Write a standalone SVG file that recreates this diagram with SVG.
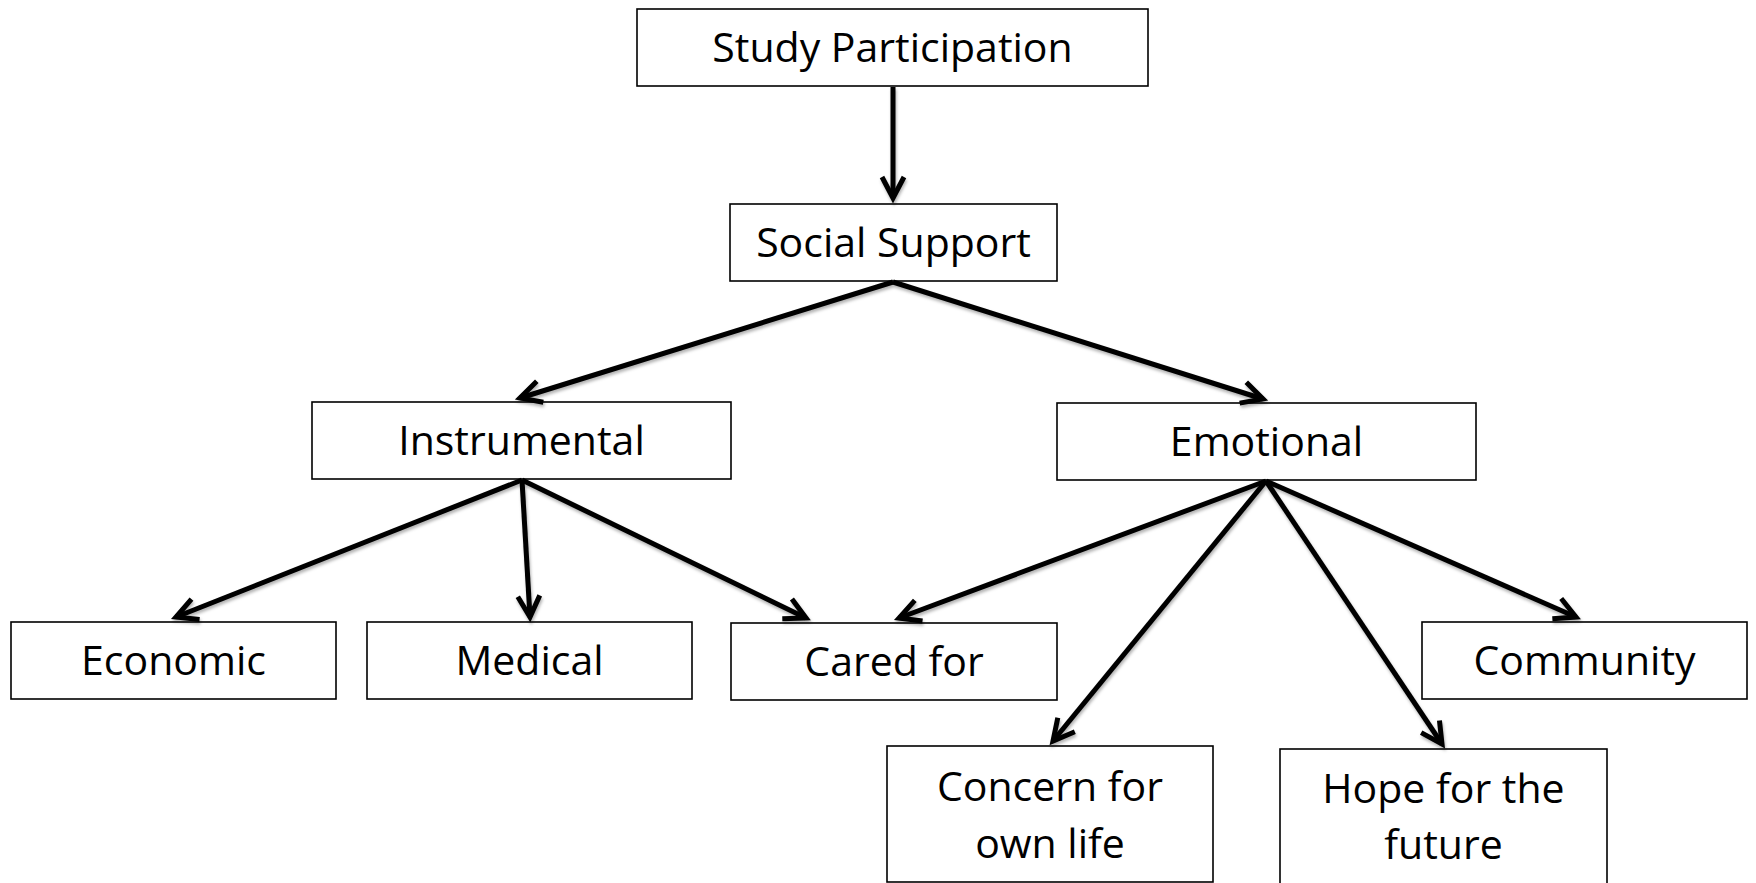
<svg xmlns="http://www.w3.org/2000/svg" width="1756" height="883" viewBox="0 0 1756 883">
<style>
.box{fill:#fff;stroke:#000;stroke-width:1.6}
.lbl{font-family:"Open Sans","Noto Sans",sans-serif;font-size:41px;fill:#000;text-anchor:middle}
.edge{stroke:#000;stroke-width:5;fill:none;marker-end:url(#arr)}
</style>
<defs>
<marker id="arr" markerUnits="userSpaceOnUse" orient="auto" refX="0" refY="0" markerWidth="40" markerHeight="40" viewBox="-30 -20 40 40" overflow="visible">
<path d="M-21,-11 L0,0 L-21,11" fill="none" stroke="#000" stroke-width="5" stroke-linejoin="miter"/>
</marker>
<filter id="sh" x="-10%" y="-10%" width="120%" height="120%">
<feDropShadow dx="1" dy="2.5" stdDeviation="1.5" flood-color="#000" flood-opacity="0.3"/>
</filter>
</defs>
<rect width="1756" height="883" fill="#fff"/>
<g id="nodes">
<g id="study"><rect class="box" x="637" y="9" width="511" height="77"/><text class="lbl" x="892.5" y="62">Study Participation</text></g>
<g id="social"><rect class="box" x="730" y="204" width="327" height="77"/><text class="lbl" x="893.5" y="257">Social Support</text></g>
<g id="instrumental"><rect class="box" x="312" y="402" width="419" height="77"/><text class="lbl" x="521.5" y="455">Instrumental</text></g>
<g id="emotional"><rect class="box" x="1057" y="403" width="419" height="77"/><text class="lbl" x="1266.5" y="456">Emotional</text></g>
<g id="economic"><rect class="box" x="11" y="622" width="325" height="77"/><text class="lbl" x="173.5" y="675">Economic</text></g>
<g id="medical"><rect class="box" x="367" y="622" width="325" height="77"/><text class="lbl" x="529.5" y="675">Medical</text></g>
<g id="caredfor"><rect class="box" x="731" y="623" width="326" height="77"/><text class="lbl" x="894" y="676">Cared for</text></g>
<g id="community"><rect class="box" x="1422" y="622" width="325" height="77"/><text class="lbl" x="1584.5" y="675">Community</text></g>
<g id="concern"><rect class="box" x="887" y="746" width="326" height="136"/><text class="lbl" x="1050" y="801">Concern for</text><text class="lbl" x="1050" y="858">own life</text></g>
<g id="hope"><rect class="box" x="1280" y="749" width="327" height="150"/><text class="lbl" x="1443.5" y="803">Hope for the</text><text class="lbl" x="1443.5" y="859">future</text></g>
</g>
<g id="connectors" filter="url(#sh)">
<path class="edge" d="M893,87 L893,198"/>
<path class="edge" d="M893,282 L520,398"/>
<path class="edge" d="M893,282 L1263,399"/>
<path class="edge" d="M522,480 L176,617"/>
<path class="edge" d="M522,480 L530,617"/>
<path class="edge" d="M522,480 L806,618"/>
<path class="edge" d="M1266,481 L899,618"/>
<path class="edge" d="M1266,481 L1053,741"/>
<path class="edge" d="M1266,481 L1442,744"/>
<path class="edge" d="M1266,481 L1576,617"/>
</g>
</svg>
